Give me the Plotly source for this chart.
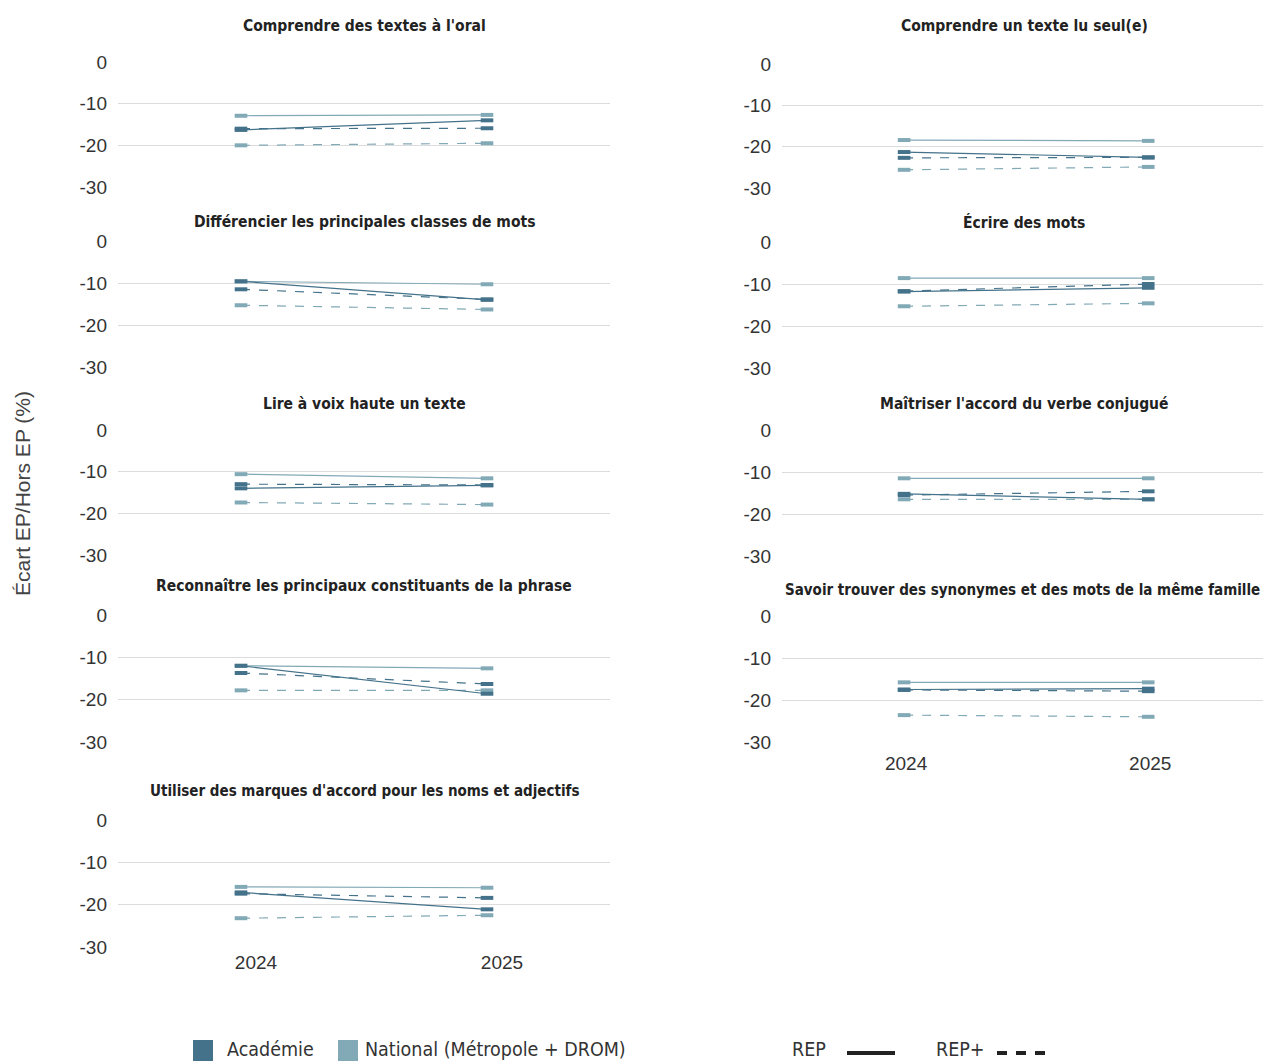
import plotly.graph_objects as go

# ---------------- data ----------------
years = ["2024", "2025"]
titles = [
    "Comprendre des textes à l'oral",
    "Comprendre un texte lu seul(e)",
    "Différencier les principales classes de mots",
    "Écrire des mots",
    "Lire à voix haute un texte",
    "Maîtriser l'accord du verbe conjugué",
    "Reconnaître les principaux constituants de la phrase",
    "Savoir trouver des synonymes et des mots de la même famille",
    "Utiliser des marques d'accord pour les noms et adjectifs",
]
acad_rep = [[-16.3, -14.0], [-21.3, -22.6], [-9.6, -14.0], [-11.8, -10.9], [-14.0, -13.3],
            [-15.2, -16.5], [-12.0, -18.6], [-17.5, -17.3], [-17.1, -21.1]]
acad_repp = [[-16.0, -15.9], [-22.7, -22.6], [-11.5, -13.9], [-11.7, -10.0], [-13.0, -13.2],
             [-15.5, -14.6], [-13.7, -16.3], [-17.6, -17.9], [-17.4, -18.4]]
nat_rep = [[-12.9, -12.7], [-18.4, -18.6], [-9.6, -10.3], [-8.6, -8.6], [-10.6, -11.6],
           [-11.5, -11.5], [-12.0, -12.6], [-15.8, -15.8], [-15.8, -16.0]]
nat_repp = [[-20.0, -19.5], [-25.6, -24.9], [-15.3, -16.3], [-15.3, -14.6], [-17.4, -17.9],
            [-16.5, -16.5], [-17.8, -17.8], [-23.6, -24.0], [-23.2, -22.5]]
y_tickvals = [0, -10, -20, -30]
y_ticktext = ["0", "-10", "-20", "-30"]

# ---------------- style ----------------
W, H = 1263, 1061
ACAD = "#44728a"
NAT = "#82a9b6"
GRID = "#dcdcdc"
TXT = "#333333"
TICKFONT = dict(family="Liberation Sans, Arial, sans-serif", size=19, color=TXT)
TITLE_FAMILY = "DejaVu Sans Condensed, Liberation Sans Narrow, sans-serif"

# pixel boxes (top=0 gridline, bottom=-30 gridline)
left_x = (118, 610)
right_x = (782, W)
left_rows = [(62, 187), (241, 367), (430, 555), (615, 742), (820, 947)]
right_rows = [(64, 188), (242, 368), (430, 556), (616, 742)]
left_title_y = [26, 222, 404, 586, 791]
right_title_y = [26, 222, 404, 590]

fig = go.Figure()
annotations = []
shapes = []

def px_x(p):
    return p / W

def px_y(p):
    return 1 - p / H

for i, t in enumerate(titles):
    k = i + 1
    left = (i % 2 == 0)
    row = i // 2
    xs = left_x if left else right_x
    ys = left_rows[row] if left else right_rows[row]
    ty = left_title_y[row] if left else right_title_y[row]
    xa = "x" if k == 1 else f"x{k}"
    ya = "y" if k == 1 else f"y{k}"

    series = [
        (nat_repp[i], NAT, "dash"),
        (nat_rep[i], NAT, "solid"),
        (acad_repp[i], ACAD, "dash"),
        (acad_rep[i], ACAD, "solid"),
    ]
    for vals, col, dash in series:
        fig.add_trace(go.Scatter(
            x=years, y=vals, xaxis=xa, yaxis=ya, mode="lines+markers",
            line=dict(color=col, width=1.2, dash=dash),
            marker=dict(symbol="line-ew", size=9, color=col, line=dict(color=col, width=4)),
            showlegend=False, hoverinfo="skip",
        ))

    bottom = (i == 8) or (i == 7)
    xr = [-0.5, 1.5] if left else [-0.5, 1.47]
    fig.layout["xaxis" if k == 1 else f"xaxis{k}"] = dict(
        domain=[px_x(xs[0]), px_x(xs[1])], anchor=ya, type="category",
        range=xr, showgrid=False, zeroline=False, showline=False,
        showticklabels=bottom, tickfont=TICKFONT, ticks="",
        ticklabelshift=15 if left else 2,
        ticklabelstandoff=2 if left else 8,
        fixedrange=True, automargin=False,
    )
    fig.layout["yaxis" if k == 1 else f"yaxis{k}"] = dict(
        domain=[px_y(ys[1]), px_y(ys[0])], anchor=xa, range=[-30, 0],
        tickvals=y_tickvals, ticktext=y_ticktext, showgrid=True, gridcolor=GRID,
        gridwidth=1, zeroline=False, showline=False, ticks="", tickfont=TICKFONT,
        ticklabelstandoff=10, fixedrange=True, automargin=False,
    )
    long_title = len(t) > 55
    cx = (xs[0] + xs[1]) / 2 if left else (1022 if long_title else 1024)
    annotations.append(dict(
        text=f"<b>{t}</b>", x=px_x(cx), y=px_y(ty),
        xref="paper", yref="paper", xanchor="center", yanchor="middle",
        showarrow=False,
        font=dict(family=TITLE_FAMILY, size=15 if long_title else 15.5, color="#222222"),
    ))

# y axis title
annotations.append(dict(
    text="Écart EP/Hors EP (%)", x=px_x(22), y=px_y(494), xref="paper", yref="paper",
    textangle=-90, showarrow=False, xanchor="center", yanchor="middle",
    font=dict(family="Liberation Sans, Arial, sans-serif", size=21, color="#444444"),
))

# legend
LEGFONT = dict(family="DejaVu Sans Condensed, Liberation Sans Narrow, sans-serif",
               size=19.5, color=TXT)
leg_y = 1049
for x0, col, label, tx in [(193, ACAD, "Académie", 225), (338, NAT, "National (Métropole + DROM)", 363)]:
    shapes.append(dict(type="rect", xref="paper", yref="paper", x0=px_x(x0), x1=px_x(x0 + 20),
                       y0=px_y(1061), y1=px_y(1040), fillcolor=col, line=dict(width=0)))
    annotations.append(dict(text=label, x=px_x(tx), y=px_y(leg_y), xref="paper", yref="paper",
                            xanchor="left", yanchor="middle", showarrow=False, font=LEGFONT))
annotations.append(dict(text="REP", x=px_x(790), y=px_y(1049), xref="paper", yref="paper",
                        xanchor="left", yanchor="middle", showarrow=False, font=LEGFONT))
shapes.append(dict(type="line", xref="paper", yref="paper", x0=px_x(847), x1=px_x(895),
                   y0=px_y(1053), y1=px_y(1053), line=dict(color="#222222", width=4)))
annotations.append(dict(text="REP+", x=px_x(934), y=px_y(1049), xref="paper", yref="paper",
                        xanchor="left", yanchor="middle", showarrow=False, font=LEGFONT))
shapes.append(dict(type="line", xref="paper", yref="paper", x0=px_x(997), x1=px_x(1045),
                   y0=px_y(1053), y1=px_y(1053),
                   line=dict(color="#222222", width=4, dash="10px,9px")))

fig.update_layout(
    width=W, height=H, margin=dict(l=0, r=0, t=0, b=0, autoexpand=False),
    paper_bgcolor="white", plot_bgcolor="white",
    annotations=annotations, shapes=shapes, showlegend=False,
)
fig.write_html("out.html", config={"displayModeBar": False},
               post_script="document.body.style.margin='0px';")
